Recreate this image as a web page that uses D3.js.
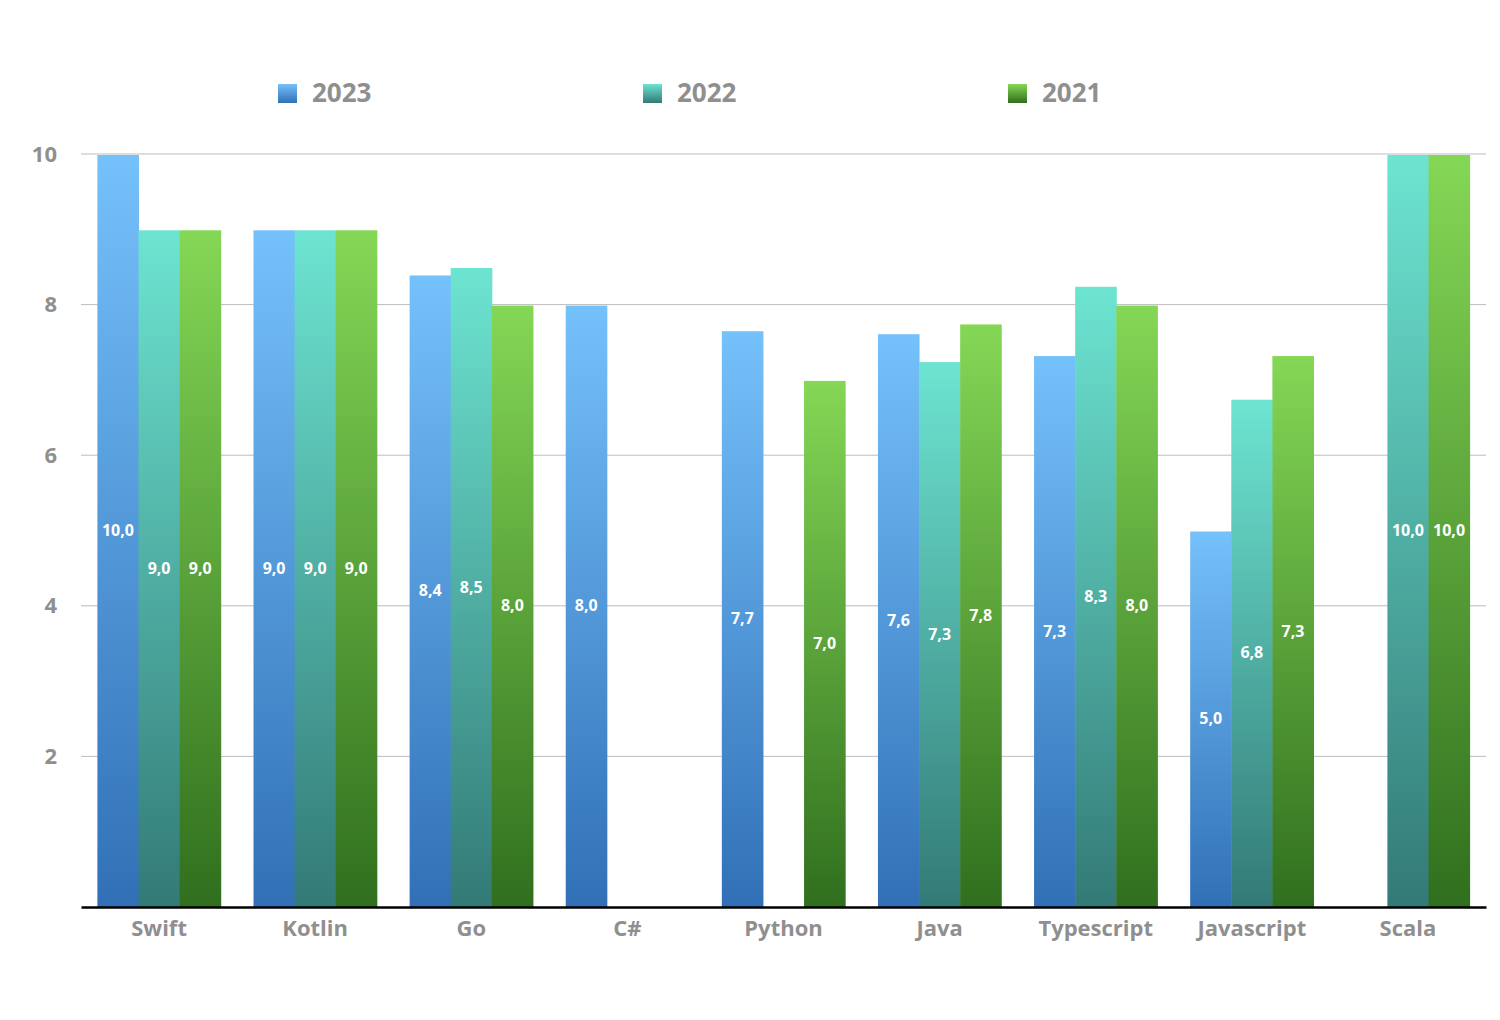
<!DOCTYPE html>
<html>
<head>
<meta charset="UTF-8">
<title>Language ratings</title>
<script src="https://cdn.jsdelivr.net/npm/d3@7"></script>
<style>
  body { margin: 0; background: #fff; }
  text { font-family: "Open Sans", Lato, sans-serif; font-weight: 700; }
</style>
</head>
<body>
<svg id="chart" width="1500" height="1020"></svg>
<script>
// data
var languages = ["Swift", "Kotlin", "Go", "C#", "Python", "Java", "Typescript", "Javascript", "Scala"]
var years = ["2023", "2022", "2021"]
var values2023 = [10, 9, 8.4, 8.0, 7.66, 7.62, 7.33, 5.0, null]
var values2022 = [9, 9, 8.5, null, null, 7.25, 8.25, 6.75, 10]
var values2021 = [9, 9, 8.0, null, 7.0, 7.75, 8.0, 7.33, 10]
var yTicks = [2, 4, 6, 8, 10]

var seriesValues = [values2023, values2022, values2021]
// gradient stops per series: top, bottom
var colors = [["#75c1fb", "#3170b6"], ["#6de4d1", "#337a77"], ["#85d756", "#306f1e"]]

var svg = d3.select("#chart")
var plotLeft = 81, plotRight = 1486, plotTop = 154, plotBottom = 907
var labelFont = '"Open Sans", Lato, sans-serif'

var x = d3.scaleBand().domain(languages).range([plotLeft, plotRight]).paddingInner(0.21).paddingOuter(0.105)
var xs = d3.scaleBand().domain(years).range([0, x.bandwidth()])
var y = d3.scaleLinear().domain([0, 10]).range([plotBottom, plotTop])
var fmt = function (v) { return d3.format(".1f")(v).replace(".", ",") }

var defs = svg.append("defs")
years.forEach(function (yr, i) {
  var g = defs.append("linearGradient").attr("id", "grad" + yr)
    .attr("x1", 0).attr("y1", 0).attr("x2", 0).attr("y2", 1)
  g.append("stop").attr("offset", "0%").attr("stop-color", colors[i][0])
  g.append("stop").attr("offset", "100%").attr("stop-color", colors[i][1])
})

// grid
svg.append("g").selectAll("line").data(yTicks).join("line")
  .attr("x1", plotLeft).attr("x2", plotRight)
  .attr("y1", function (d) { return y(d) }).attr("y2", function (d) { return y(d) })
  .attr("stroke", "#bdbdbd").attr("stroke-width", 1)

// y axis labels
var yAxis = svg.append("g").attr("transform", "translate(" + (plotLeft - 24) + ",0)")
  .call(d3.axisLeft(y).tickValues(yTicks).tickSize(0).tickPadding(0).tickFormat(d3.format("d")))
yAxis.select(".domain").remove()
yAxis.selectAll("text").attr("fill", "#8f8f8f").style("font-size", "22px")
  .style("font-family", labelFont).style("font-weight", 700)

// bars
var rows = []
languages.forEach(function (lang, li) {
  years.forEach(function (yr, si) {
    var v = seriesValues[si][li]
    if (v != null) rows.push({ lang: lang, year: yr, value: v })
  })
})

var bars = svg.append("g")
bars.selectAll("rect").data(rows).join("rect")
  .attr("x", function (d) { return x(d.lang) + xs(d.year) })
  .attr("width", xs.bandwidth() + 0.5)
  .attr("y", function (d) { return y(d.value) + 1 })
  .attr("height", function (d) { return y(0) - y(d.value) - 1 })
  .attr("fill", function (d) { return "url(#grad" + d.year + ")" })

bars.selectAll("text").data(rows).join("text")
  .attr("x", function (d) { return x(d.lang) + xs(d.year) + xs.bandwidth() / 2 })
  .attr("y", function (d) { return (y(d.value) + y(0)) / 2 })
  .attr("dy", "0.35em")
  .attr("text-anchor", "middle")
  .attr("fill", "#fff")
  .style("font-size", "16px")
  .text(function (d) { return fmt(d.value) })

// x axis
var xAxis = svg.append("g").attr("transform", "translate(0," + plotBottom + ")")
  .call(d3.axisBottom(x).tickSize(0).tickPadding(13))
xAxis.select(".domain").attr("stroke", "#000").attr("stroke-width", 2.5)
xAxis.selectAll("text").attr("fill", "#8f8f8f").style("font-size", "22px")
  .style("font-family", labelFont).style("font-weight", 700)

// legend
var legend = svg.append("g").selectAll("g").data(years).join("g")
  .attr("transform", function (d, i) { return "translate(" + (278 + i * 365) + ",84)" })
legend.append("rect").attr("width", 19).attr("height", 19)
  .attr("fill", function (d) { return "url(#grad" + d + ")" })
legend.append("text").attr("x", 34).attr("y", 18)
  .attr("fill", "#8f8f8f").style("font-size", "26px")
  .text(function (d) { return d })
</script>
</body>
</html>
